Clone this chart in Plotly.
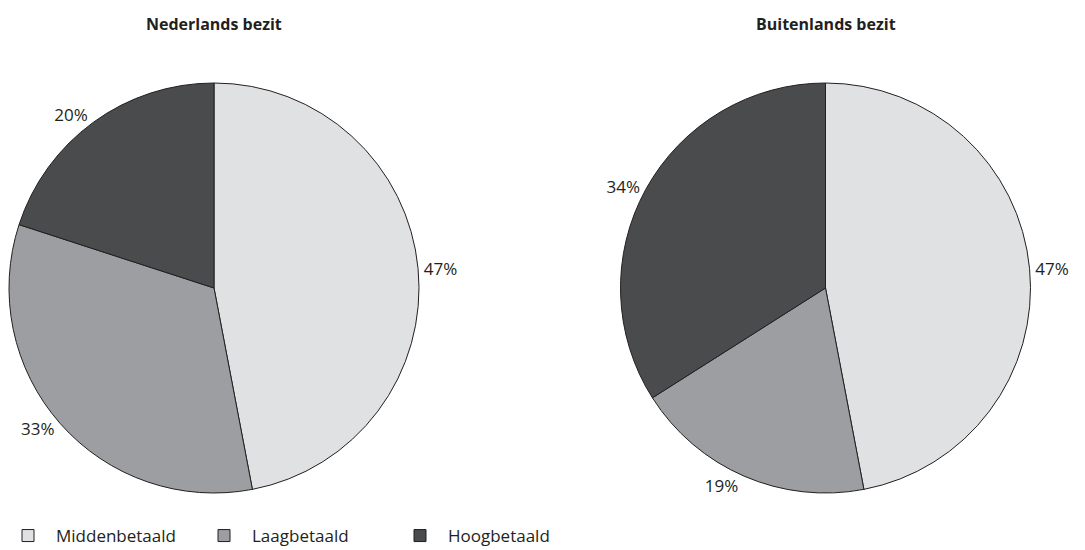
import plotly.graph_objects as go

categories = ["Middenbetaald", "Laagbetaald", "Hoogbetaald"]
nederlands = [47, 33, 20]
buitenlands = [47, 19, 34]
titles = ["Nederlands bezit", "Buitenlands bezit"]
colors = ["#e0e1e3", "#9d9ea2", "#4a4b4d"]

W, H = 1085, 550
FONT = "Open Sans"

def pie(values, dom_x, show):
    return go.Pie(
        labels=categories, values=values, sort=False, direction="clockwise",
        rotation=0, domain=dict(x=dom_x, y=[1 - 493 / H, 1 - 83 / H]),
        marker=dict(colors=colors, line=dict(color="#231f20", width=1)),
        texttemplate="%{value}%", textposition="outside",
        textfont=dict(family=FONT, size=17, color="#231f20"),
        showlegend=show, hoverinfo="label+value",
    )

fig = go.Figure()
fig.add_trace(pie(nederlands, [9 / W, 419 / W], True))
fig.add_trace(pie(buitenlands, [620 / W, 1031 / W], False))

for t, cx in zip(titles, [214 / W, 826 / W]):
    fig.add_annotation(text="<b>" + t + "</b>", x=cx, y=1 - 24 / H, xref="paper", yref="paper",
                       xanchor="center", yanchor="middle",
                       showarrow=False, font=dict(family=FONT, size=16, color="#231f20"))

fig.update_layout(
    width=W, height=H, margin=dict(l=0, r=0, t=0, b=0, autoexpand=False),
    paper_bgcolor="white", plot_bgcolor="white",
    font=dict(family=FONT, color="#231f20"),
    legend=dict(orientation="h", x=0, xanchor="left", y=14 / H, yanchor="middle",
                font=dict(family=FONT, size=17, color="#231f20"),
                itemwidth=46, entrywidth=135, traceorder="normal"),
)
fig.write_html("out.html", config={"displayModeBar": False},
               post_script="document.body.style.margin='0px';")
